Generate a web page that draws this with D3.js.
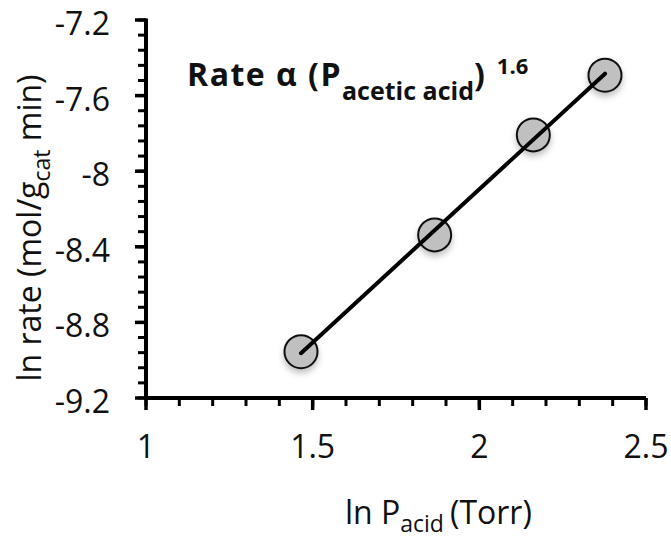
<!DOCTYPE html>
<html>
<head>
<meta charset="utf-8">
<script src="https://cdn.jsdelivr.net/npm/d3@7"></script>
<style>
  html, body { margin: 0; padding: 0; background: #fff; }
  svg { display: block; font-family: "Open Sans", Lato, sans-serif; }
</style>
</head>
<body>
<svg id="chart" width="671" height="540"></svg>
<script>
// ln P(acid) vs ln rate measurements
const lnPressure = [1.465, 1.866, 2.162, 2.377];
const lnRate = [-8.955, -8.337, -7.808, -7.492];

// axis tick values
const xMajorTicks = [1, 1.5, 2, 2.5];
const yMajorTicks = [-9.2, -8.8, -8.4, -8, -7.6, -7.2];
const xTickLabels = ["1", "1.5", "2", "2.5"];
const yTickLabels = ["-9.2", "-8.8", "-8.4", "-8", "-7.6", "-7.2"];

const svg = d3.select("#chart");
const margin = { left: 146, right: 25, top: 20, bottom: 142 };
const W = 671, H = 540;

const x = d3.scaleLinear().domain([1, 2.5]).range([margin.left, W - margin.right]);
const y = d3.scaleLinear().domain([-9.2, -7.2]).range([H - margin.bottom, margin.top]);

// drop shadow for markers
const defs = svg.append("defs");
const f = defs.append("filter").attr("id", "shadow")
  .attr("x", "-50%").attr("y", "-50%").attr("width", "200%").attr("height", "200%");
f.append("feDropShadow").attr("dx", 0).attr("dy", 4).attr("stdDeviation", 3)
  .attr("flood-color", "#000").attr("flood-opacity", 0.25);

// minor ticks
const xMinor = d3.range(0, 16).map(i => 1 + i * 0.1);
const yMinor = d3.range(0, 26).map(i => -9.2 + i * 0.08);

const axisG = svg.append("g");
axisG.selectAll(".xminor").data(xMinor).join("line")
  .attr("x1", d => x(d)).attr("x2", d => x(d))
  .attr("y1", y(-9.2)).attr("y2", y(-9.2) + 8)
  .attr("stroke", "#000").attr("stroke-width", 3);
axisG.selectAll(".xmajor").data(xMajorTicks).join("line")
  .attr("x1", d => x(d)).attr("x2", d => x(d))
  .attr("y1", y(-9.2)).attr("y2", y(-9.2) + 12)
  .attr("stroke", "#000").attr("stroke-width", 3.5);
axisG.selectAll(".yminor").data(yMinor).join("line")
  .attr("x1", x(1) - 8).attr("x2", x(1))
  .attr("y1", d => y(d)).attr("y2", d => y(d))
  .attr("stroke", "#000").attr("stroke-width", 3);
axisG.selectAll(".ymajor").data(yMajorTicks).join("line")
  .attr("x1", x(1) - 11).attr("x2", x(1))
  .attr("y1", d => y(d)).attr("y2", d => y(d))
  .attr("stroke", "#000").attr("stroke-width", 3.5);

// axis lines
axisG.append("line").attr("x1", x(1)).attr("x2", x(2.5))
  .attr("y1", y(-9.2)).attr("y2", y(-9.2)).attr("stroke", "#000").attr("stroke-width", 4);
axisG.append("line").attr("x1", x(1)).attr("x2", x(1))
  .attr("y1", y(-9.2) + 2).attr("y2", y(-7.2) - 1.5).attr("stroke", "#000").attr("stroke-width", 4);

// tick labels
axisG.selectAll(".xlab").data(xMajorTicks).join("text")
  .attr("x", d => x(d)).attr("y", y(-9.2) + 60)
  .attr("text-anchor", "middle").attr("font-size", 32).attr("fill", "#111")
  .text((d, i) => xTickLabels[i]);
axisG.selectAll(".ylab").data(yMajorTicks).join("text")
  .attr("x", x(1) - 36).attr("y", d => y(d) + 15)
  .attr("text-anchor", "end").attr("font-size", 32).attr("fill", "#111")
  .text((d, i) => yTickLabels[i]);

// least-squares fit line
const mx = d3.mean(lnPressure), my = d3.mean(lnRate);
const slope = d3.sum(lnPressure.map((v, i) => (v - mx) * (lnRate[i] - my))) /
              d3.sum(lnPressure.map(v => (v - mx) ** 2));
const icpt = my - slope * mx;
const x0 = d3.min(lnPressure), x1 = d3.max(lnPressure);

// markers
const pts = lnPressure.map((v, i) => ({ x: v, y: lnRate[i] }));
svg.append("g").selectAll("circle").data(pts).join("circle")
  .attr("cx", d => x(d.x)).attr("cy", d => y(d.y)).attr("r", 16.5)
  .attr("fill", "#c0c0c0").attr("stroke", "#111").attr("stroke-width", 2)
  .attr("filter", "url(#shadow)");

svg.append("line")
  .attr("x1", x(x0)).attr("y1", y(slope * x0 + icpt))
  .attr("x2", x(x1)).attr("y2", y(slope * x1 + icpt))
  .attr("stroke", "#000").attr("stroke-width", 4).attr("stroke-linecap", "round");

// annotation
const ann = svg.append("text").attr("x", 187).attr("y", 86)
  .attr("font-weight", "bold").attr("font-size", 32).attr("fill", "#111");
ann.append("tspan").attr("letter-spacing", 1.5).text("Rate α (P");
ann.append("tspan").attr("font-size", 25).attr("dy", 14).text("acetic acid");
ann.append("tspan").attr("dy", -14).text(")");
ann.append("tspan").attr("font-size", 22).attr("dy", -12).attr("dx", 12).text("1.6");

// axis titles
const xt = svg.append("text").attr("x", 345).attr("y", 524)
  .attr("text-anchor", "start").attr("font-size", 32).attr("fill", "#111");
xt.append("tspan").text("ln P");
xt.append("tspan").attr("font-size", 23).attr("dy", 8).text("acid");
xt.append("tspan").attr("dy", -8).attr("dx", 6).text("(Torr)");

const yt = svg.append("text")
  .attr("transform", "translate(41,228) rotate(-90)")
  .attr("text-anchor", "middle").attr("font-size", 32).attr("fill", "#111");
yt.append("tspan").text("ln rate (mol/g");
yt.append("tspan").attr("font-size", 23).attr("dy", 9).text("cat");
yt.append("tspan").attr("dy", -9).text(" min)");
</script>
</body>
</html>
